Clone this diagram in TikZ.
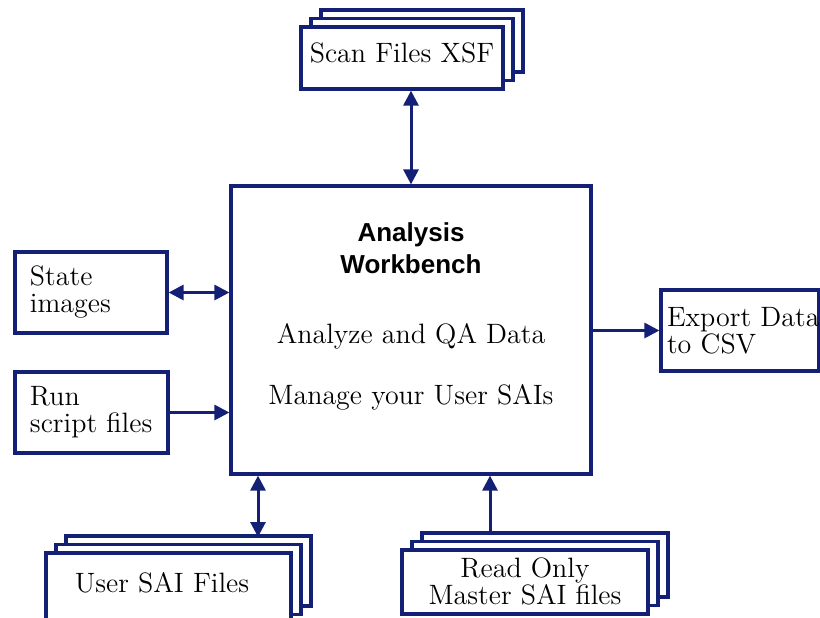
\documentclass[tikz,border=0pt]{standalone}
\usepackage{fontspec}
\setsansfont{Liberation Sans}
\usetikzlibrary{arrows.meta,shadows}
\definecolor{navy}{RGB}{20,32,118}
\tikzset{
    box/.style={draw=navy, line width=1.6pt, fill=white, inner sep=0pt,
        font=\fontsize{14}{13.5}\selectfont},
    stack/.style={box,
        copy shadow={shadow xshift=10pt, shadow yshift=8.5pt,
            draw=navy, line width=1.6pt, fill=white},
        copy shadow={shadow xshift=5pt, shadow yshift=4.25pt,
            draw=navy, line width=1.6pt, fill=white}},
    link/.style={draw=navy, line width=1.5pt, -{Triangle[length=7.5pt,width=7.5pt]}},
    both/.style={link, {Triangle[length=7.5pt,width=7.5pt]}-{Triangle[length=7.5pt,width=7.5pt]}},
    label/.style={font=\fontsize{14}{13.5}\selectfont, inner sep=0pt}
}
\begin{document}
\begin{tikzpicture}
        [x=0.5pt, y=-0.5pt]
        \useasboundingbox (0,0) rectangle (820,617);
        % main box
        \node[box, minimum width=180pt, minimum height=144pt] (main) at (411,330) {};
        \node[label, align=center, font=\sffamily\bfseries\fontsize{13}{16}\selectfont]
            (title) at (411,248) {Analysis\\Workbench};
        \node[label] (analyze) at (411,336) {Analyze and QA Data};
        \node[label] (manage) at (411,397) {Manage your User SAIs};
        % file stacks
        \node[stack, minimum width=101pt, minimum height=31pt] (scan) at (402,58) {};
        \node[label] (scantext) at (402,53) {Scan Files XSF};
        \node[stack, minimum width=122.5pt, minimum height=35pt] (user) at (168.5,588) {};
        \node[label] (usertext) at (162,583) {User SAI Files};
        \node[stack, minimum width=123pt, minimum height=32pt] (master) at (525,582) {};
        \node[label, align=center] (mastertext) at (525,581) {Read Only\\Master SAI files};
        % side boxes
        \node[box, minimum width=76pt, minimum height=40.5pt,
            text width=61pt, align=left, inner xsep=7.5pt] (state) at (91,292.5)
            {State\\images};
        \node[box, minimum width=76.5pt, minimum height=40.5pt,
            text width=61.5pt, align=left, inner xsep=7.5pt] (run) at (91.5,412.5)
            {Run\\script~files};
        \node[box, minimum width=79pt, minimum height=40.5pt,
            text width=73pt, align=left, inner xsep=3pt] (export) at (740,330.5)
            {Export~Data\\to CSV};
        \coordinate (usertop) at (258,537);
        \coordinate (mastertop) at (490,533);
        % connectors
        \draw[both]
            (main.north |- scan.south)--(main.north);
        \draw[both]
            (state.east)--(state.east -| main.west);
        \draw[link]
            (run.east)--(run.east -| main.west);
        \draw[link]
            (main.east |- export.west)--(export.west);
        \draw[both]
            (main.south -| usertop)--(usertop);
        \draw[link]
            (mastertop)--(main.south -| mastertop);
        \end{tikzpicture}
\end{document}
